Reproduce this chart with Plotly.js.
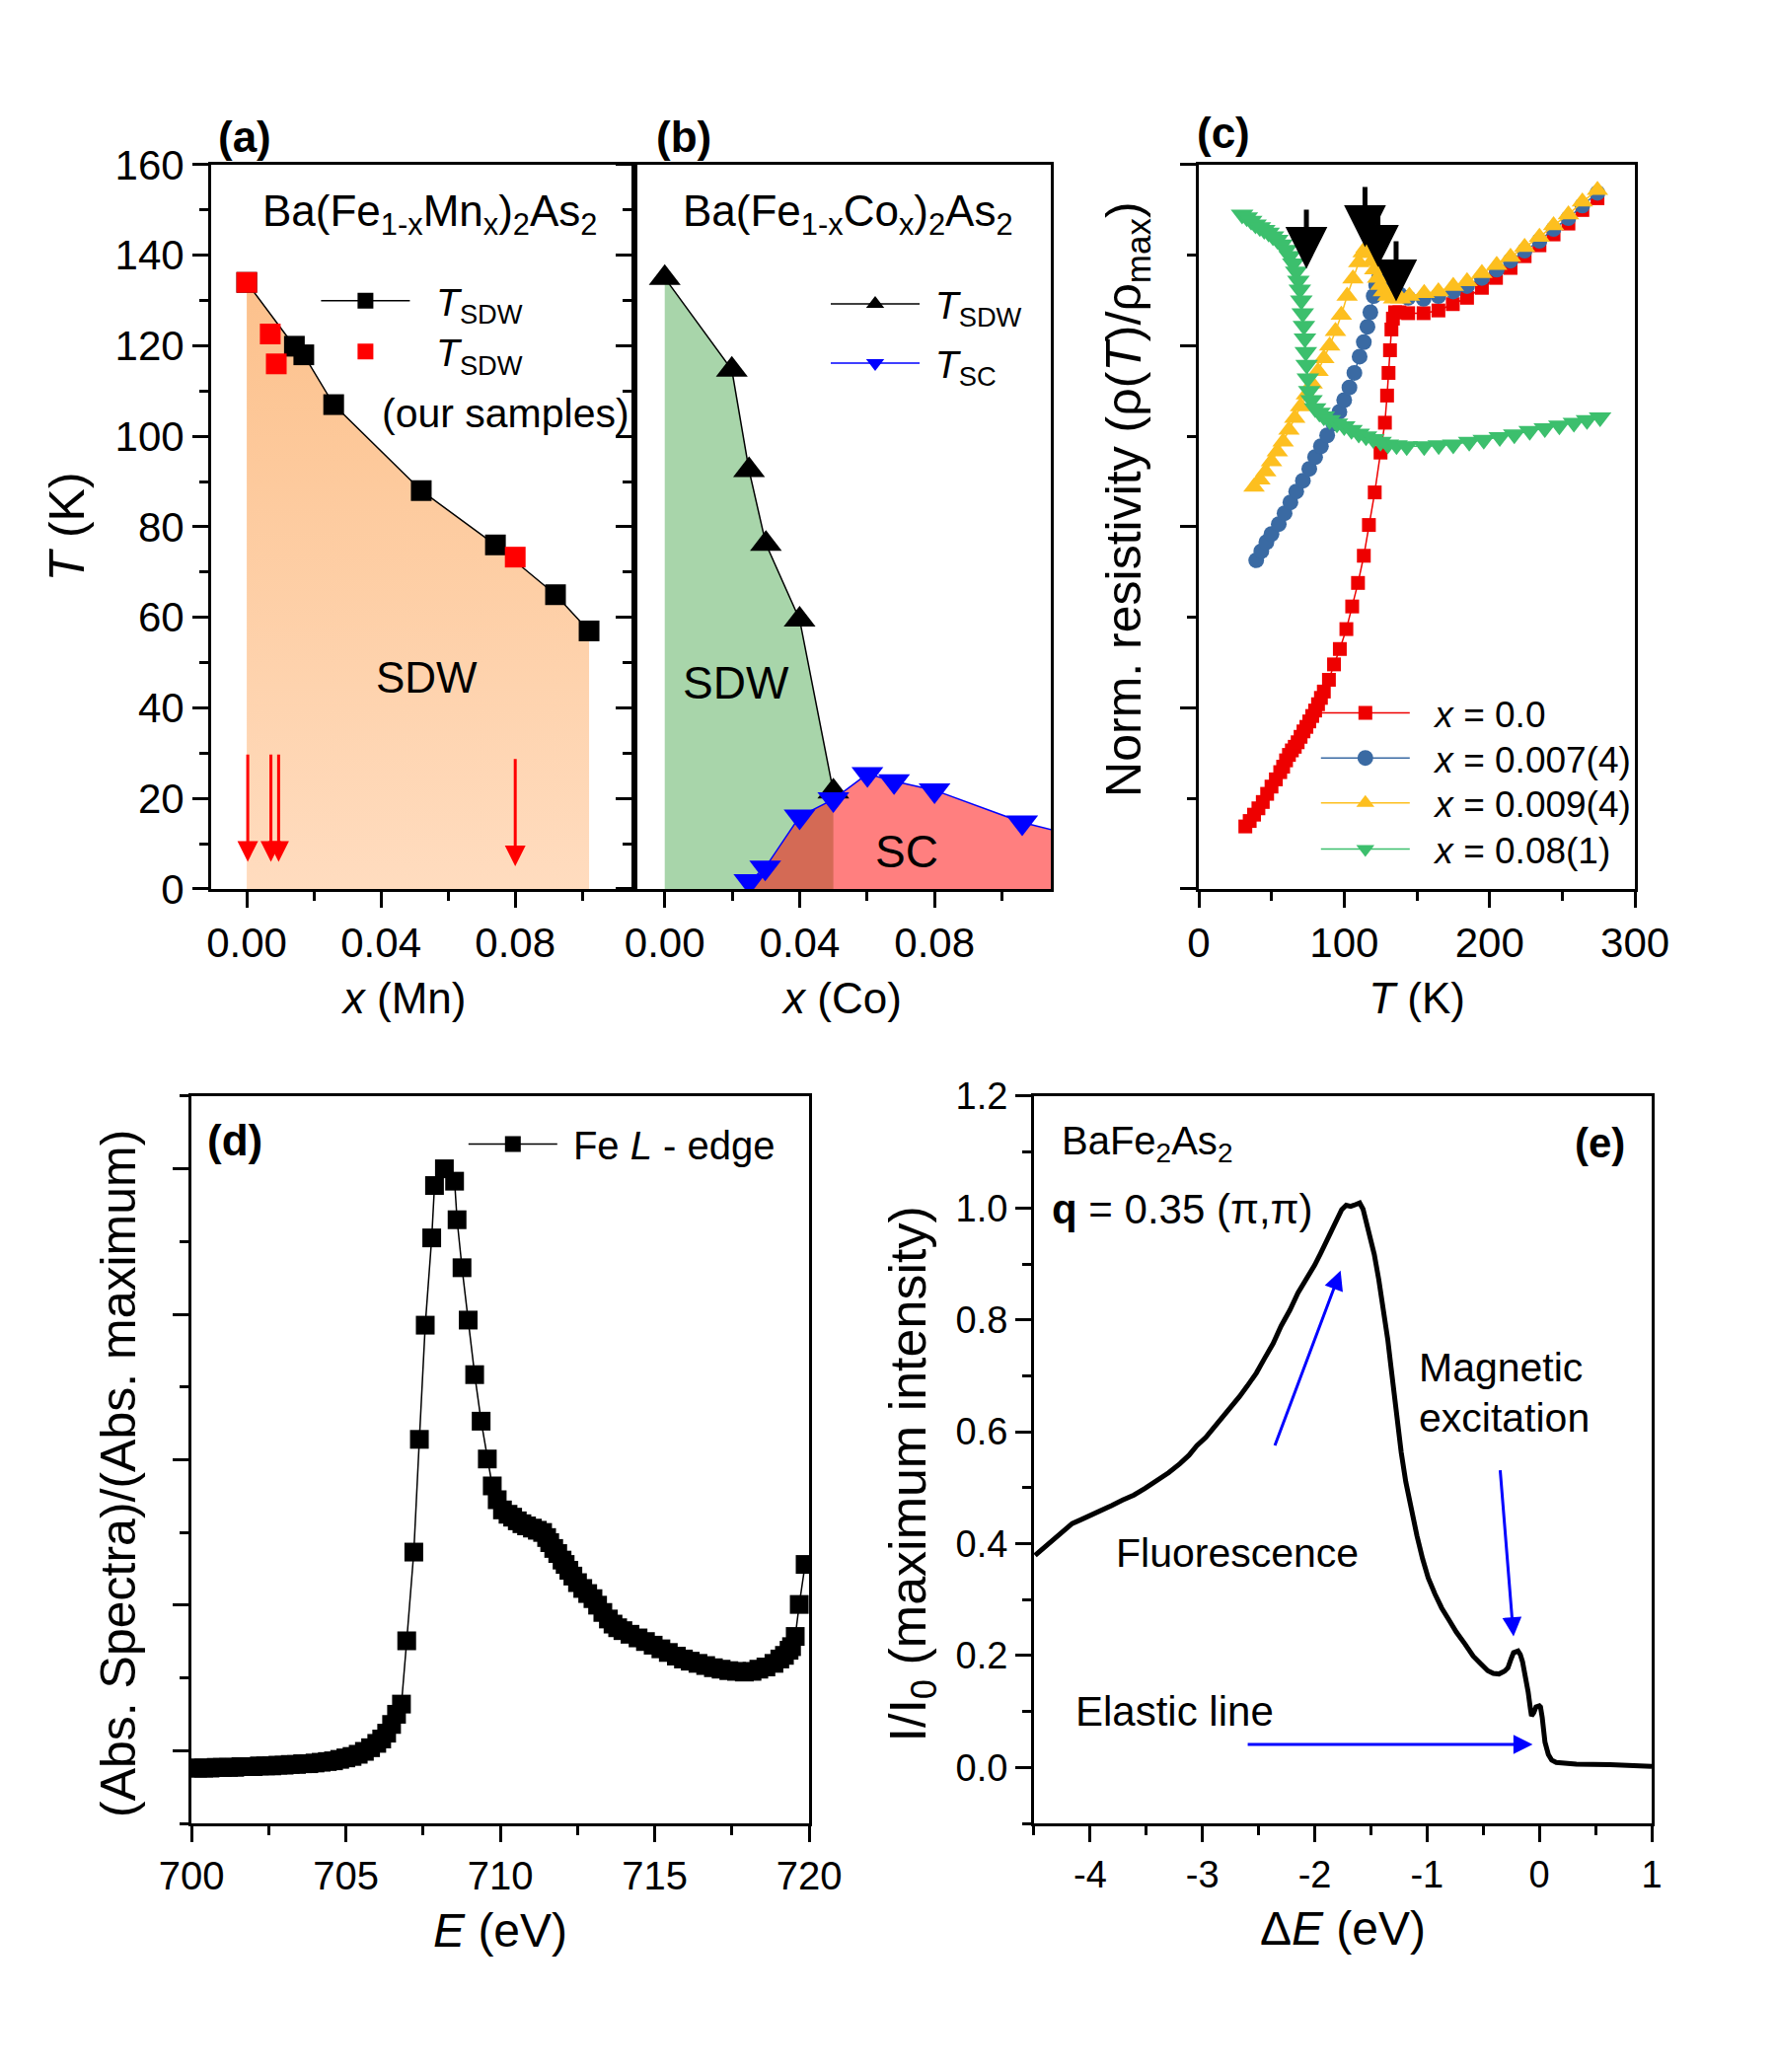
<!DOCTYPE html>
<html>
<head>
<meta charset="utf-8">
<script src="https://cdn.plot.ly/plotly-3.0.1.min.js"></script>
<style>html,body{margin:0;padding:0;background:#fff;}#chart{width:1800px;height:2100px;}</style>
</head>
<body>
<div id="chart"></div>
<script>
// ---------- Panel (a): Ba(Fe1-xMnx)2As2 ----------
const aLitX = [0, 0.0142, 0.017, 0.0259, 0.052, 0.0741, 0.092, 0.102];
const aLitT = [134, 119.9, 118, 107, 88, 76, 65, 57];
const aOurX = [0, 0.007, 0.0088, 0.08];
const aOurT = [134, 122.6, 116, 73.3];
const aArrowX = [0.0003, 0.0072, 0.0095, 0.08];
const aArrowTail = [30, 30, 30, 29];
const aArrowTip = [6, 6, 6, 5];

// ---------- Panel (b): Ba(Fe1-xCox)2As2 ----------
const bSdwX = [0, 0.0199, 0.025, 0.030, 0.040, 0.050];
const bSdwT = [135, 114.7, 92.5, 76.2, 59.5, 21.5];
const bScX = [0.0251, 0.0298, 0.040, 0.050, 0.0601, 0.068, 0.080, 0.106, 0.12];
const bScT = [1.7, 4.7, 16, 19.8, 25.4, 23.8, 21.8, 14.7, 12.1];

// ---------- Panel (c): normalized resistivity ----------
const cT0 = [32,35,38,41,44,47,50,53,56,58,60,62,64,66,68,70,72,74,76,78,80,82,84,86,89.5,93,97,101.5,105.5,109.5,113.5,117,121,125,128,129.5,130.5,131.5,132.5,133.5,135,138,144,154.6,164.8,174.7,184.5,194.7,204.4,214.4,224.1,234.3,244,254.2,263.8,274.2];
const cR0 = [0.269,0.275,0.282,0.289,0.296,0.305,0.313,0.321,0.329,0.335,0.342,0.348,0.353,0.357,0.362,0.368,0.374,0.379,0.385,0.391,0.397,0.404,0.411,0.418,0.431,0.448,0.465,0.487,0.512,0.538,0.568,0.602,0.638,0.682,0.715,0.745,0.770,0.795,0.818,0.830,0.837,0.837,0.836,0.836,0.839,0.846,0.853,0.864,0.875,0.886,0.899,0.911,0.923,0.935,0.950,0.963];
const cT1 = [39.5,43,46.5,50,55,59,63,67,71.6,76,80,84,88.3,92.5,96.7,100,103.6,107,110.6,113.5,116,118,120.3,122,124,126,128,131,134,138,144,154.6,164.8,175,184.5,194.7,204.9,214.4,224.1,234.3,244,254.2,263.8,274.2];
const cR1 = [0.563,0.573,0.583,0.592,0.603,0.615,0.627,0.639,0.651,0.664,0.677,0.689,0.701,0.714,0.727,0.740,0.754,0.770,0.788,0.804,0.821,0.837,0.855,0.867,0.875,0.877,0.873,0.866,0.861,0.857,0.853,0.852,0.855,0.860,0.866,0.875,0.884,0.894,0.905,0.916,0.929,0.941,0.955,0.969];
const cT2 = [38,42,46,50,54,58,62,66,70,74,78,82,86,90,94,98,102,106,110,113,115,117,119,121,123,125,127,130,134,139,144.8,155,164.8,175,184.5,194.7,204.9,214.4,224.1,234.3,244,254.2,263.8,274.2];
const cR2 = [0.644,0.652,0.661,0.672,0.683,0.694,0.707,0.720,0.733,0.746,0.758,0.772,0.786,0.800,0.816,0.834,0.855,0.874,0.892,0.903,0.908,0.902,0.893,0.884,0.875,0.867,0.860,0.855,0.852,0.852,0.855,0.858,0.860,0.866,0.871,0.880,0.889,0.898,0.909,0.920,0.933,0.945,0.959,0.972];
const cT3 = [29.8,33,36,39,42,45,48,51,54,57,60,62.5,65,67,68.5,69.5,70.5,71.5,72.3,73,73.6,74.2,75,76,77.5,80,83,86,90,95,100,105,110,115,120,125,130,136,143,155,165,175,186,196,207,217,227.6,238,248,258,267,276];
const cR3 = [0.945,0.942,0.938,0.934,0.931,0.928,0.925,0.921,0.917,0.912,0.906,0.899,0.891,0.882,0.872,0.862,0.850,0.836,0.822,0.808,0.793,0.779,0.764,0.750,0.740,0.731,0.726,0.722,0.718,0.714,0.711,0.707,0.703,0.700,0.697,0.694,0.691,0.690,0.689,0.689,0.690,0.691,0.694,0.696,0.699,0.702,0.706,0.709,0.712,0.715,0.718,0.721];
const cArrowT = [74, 114.3, 123.2, 135.7];
const cArrowTail = [0.952, 0.977, 0.955, 0.917];
const cArrowTip = [0.885, 0.909, 0.887, 0.849];
const cNames = ['<i>x</i> = 0.0', '<i>x</i> = 0.007(4)', '<i>x</i> = 0.009(4)', '<i>x</i> = 0.08(1)'];

// ---------- Panel (d): Fe L-edge XAS ----------
const dE = [700.0,700.2,700.4,700.6,700.8,701.0,701.2,701.4,701.6,701.8,702.0,702.2,702.4,702.6,702.8,703.0,703.2,703.4,703.6,703.8,704.0,704.2,704.4,704.6,704.8,705.0,705.2,705.4,705.6,705.8,706.0,706.16,706.32,706.48,706.64,706.8,706.97,707.2,707.38,707.57,707.78,707.87,708.19,708.52,708.6,708.76,708.96,709.17,709.38,709.58,709.74,709.9,710.07,710.25,710.4,710.55,710.7,710.85,711.04,711.2,711.37,711.5,711.6,711.73,711.86,712.0,712.1,712.22,712.35,712.5,712.67,712.83,713.0,713.15,713.32,713.5,713.65,713.8,713.97,714.2,714.46,714.7,714.95,715.2,715.44,715.7,715.93,716.15,716.4,716.65,716.9,717.15,717.4,717.65,717.9,718.15,718.37,718.6,718.86,719.05,719.2,719.35,719.43,719.55,719.68,719.87];
const dA = [0.176,0.176,0.176,0.176,0.177,0.177,0.177,0.177,0.178,0.178,0.178,0.179,0.179,0.179,0.180,0.180,0.181,0.181,0.182,0.182,0.183,0.184,0.185,0.186,0.188,0.190,0.192,0.195,0.199,0.204,0.210,0.216,0.224,0.236,0.250,0.264,0.351,0.473,0.628,0.785,0.905,0.977,1.000,0.983,0.930,0.864,0.792,0.717,0.653,0.601,0.564,0.545,0.531,0.525,0.521,0.516,0.512,0.509,0.506,0.503,0.500,0.493,0.486,0.478,0.471,0.462,0.456,0.448,0.440,0.431,0.423,0.416,0.409,0.400,0.390,0.381,0.374,0.369,0.365,0.360,0.355,0.350,0.345,0.340,0.335,0.330,0.326,0.323,0.320,0.317,0.314,0.312,0.310,0.309,0.308,0.309,0.312,0.315,0.320,0.326,0.331,0.338,0.343,0.357,0.401,0.456];

// ---------- Panel (e): RIXS spectrum ----------
const eX = [-4.49,-4.4,-4.31,-4.23,-4.16,-4.08,-4.0,-3.9,-3.81,-3.71,-3.61,-3.51,-3.41,-3.3,-3.2,-3.12,-3.05,-2.97,-2.9,-2.82,-2.75,-2.67,-2.6,-2.52,-2.45,-2.37,-2.3,-2.22,-2.15,-2.07,-2.0,-1.95,-1.9,-1.85,-1.8,-1.76,-1.72,-1.68,-1.65,-1.62,-1.6,-1.57,-1.55,-1.51,-1.47,-1.43,-1.39,-1.35,-1.32,-1.29,-1.27,-1.23,-1.19,-1.14,-1.09,-1.04,-0.99,-0.93,-0.87,-0.8,-0.74,-0.66,-0.59,-0.52,-0.46,-0.41,-0.36,-0.31,-0.28,-0.25,-0.23,-0.19,-0.17,-0.15,-0.12,-0.1,-0.08,-0.07,-0.05,-0.03,0.0,0.01,0.025,0.035,0.05,0.08,0.11,0.15,0.33,0.63,1.0];
const eI = [0.379,0.395,0.412,0.425,0.436,0.443,0.450,0.459,0.468,0.478,0.487,0.499,0.512,0.527,0.543,0.558,0.575,0.590,0.607,0.626,0.645,0.663,0.682,0.705,0.730,0.758,0.789,0.818,0.848,0.874,0.898,0.918,0.939,0.960,0.982,0.997,1.005,1.003,1.005,1.007,1.009,0.998,0.982,0.953,0.917,0.872,0.821,0.765,0.714,0.660,0.618,0.563,0.511,0.460,0.414,0.373,0.339,0.310,0.285,0.262,0.242,0.220,0.199,0.185,0.173,0.168,0.167,0.172,0.178,0.195,0.205,0.208,0.202,0.189,0.160,0.135,0.105,0.092,0.098,0.108,0.110,0.108,0.090,0.071,0.045,0.023,0.013,0.009,0.006,0.005,0.002];
const eTickVals = [-4, -3, -2, -1, 0, 1];
const eTickText = ['-4', '-3', '-2', '-1', '0', '1'];

// ---------- styling helpers ----------
const FONT = 'Liberation Sans, Arial, Helvetica, sans-serif';
const SP = '\u00a0';
const ZW = '\u200b';
function pad(n) { return ZW + SP.repeat(n) + ZW; }
function mainAx(domain, range, dtick, mdtick, anchor, o) {
  return Object.assign({
    domain: domain, range: range, anchor: anchor, dtick: dtick, tick0: 0,
    showline: true, linewidth: 3, linecolor: 'black', mirror: true,
    ticks: 'outside', ticklen: 16, tickwidth: 3, tickcolor: 'black',
    minor: {ticks: 'outside', ticklen: 9, tickwidth: 3, tickcolor: 'black', dtick: mdtick, tick0: 0, showgrid: false},
    showgrid: false, zeroline: false, tickfont: {size: 42, family: FONT, color: 'black'}
  }, o || {});
}
function overAx(base, side, anchor, range, dtick, mdtick, o) {
  return Object.assign({
    overlaying: base, side: side, anchor: anchor, range: range, dtick: dtick, tick0: 0,
    showline: false, ticks: 'inside', ticklen: 16, tickwidth: 3, tickcolor: 'black',
    minor: {ticks: 'inside', ticklen: 9, tickwidth: 3, tickcolor: 'black', dtick: mdtick, tick0: 0, showgrid: false},
    showgrid: false, zeroline: false, showticklabels: false
  }, o || {});
}

const yA = [0.5710, 0.9205];
const yB = [0.12, 0.4710];
const dom = {a: [0.1189, 0.3572], b: [0.3572, 0.5917], c: [0.6750, 0.9206], d: [0.1078, 0.4556], e: [0.5822, 0.9300]};
const rng = {a: [-0.0106, 0.1155], b: [-0.009, 0.1145], c: [0, 300], d: [700, 720], e: [-4.5, 1]};

const traces = [
  // (a) filled SDW region
  {x: aLitX, y: aLitT, xaxis: 'x', yaxis: 'y', mode: 'none', showlegend: false, hoverinfo: 'skip',
   fill: 'tozeroy', fillgradient: {type: 'vertical', start: 0, stop: 134, colorscale: [[0, '#ffdcbf'], [1, '#fcc18c']]}},
  {x: aLitX, y: aLitT, xaxis: 'x', yaxis: 'y', mode: 'lines+markers', name: SP + SP + '<i>T</i><sub>SDW</sub>',
   line: {color: 'black', width: 1.5}, marker: {symbol: 'square', size: 21, color: 'black'}, legend: 'legend'},
  {x: aOurX, y: aOurT, xaxis: 'x', yaxis: 'y', mode: 'markers', name: SP + SP + '<i>T</i><sub>SDW</sub>',
   marker: {symbol: 'square', size: 21, color: '#ff0000'}, legend: 'legend2'},
  // (b) filled regions
  {x: bSdwX, y: bSdwT, xaxis: 'x2', yaxis: 'y2', mode: 'none', showlegend: false, hoverinfo: 'skip',
   fill: 'tozeroy', fillcolor: '#a8d5aa'},
  {x: bScX, y: bScT, xaxis: 'x2', yaxis: 'y2', mode: 'none', showlegend: false, hoverinfo: 'skip',
   fill: 'tozeroy', fillcolor: 'rgba(255,0,0,0.5)'},
  {x: bSdwX, y: bSdwT, xaxis: 'x2', yaxis: 'y2', mode: 'lines+markers', name: SP + '<i>T</i><sub>SDW</sub>',
   line: {color: 'black', width: 1.5}, marker: {symbol: 'triangle-up', size: 28, color: 'black'}, legend: 'legend3'},
  {x: bScX, y: bScT, xaxis: 'x2', yaxis: 'y2', mode: 'lines+markers', name: SP + '<i>T</i><sub>SC</sub>',
   line: {color: '#0000ff', width: 1.5}, marker: {symbol: 'triangle-down', size: 28, color: '#0000ff'}, legend: 'legend4'},
  // (c)
  {x: cT0, y: cR0, xaxis: 'x3', yaxis: 'y3', mode: 'lines+markers', name: SP + SP + cNames[0],
   line: {color: '#ee0000', width: 1.5}, marker: {symbol: 'square', size: 14, color: '#ee0000'}, legend: 'legend5'},
  {x: cT1, y: cR1, xaxis: 'x3', yaxis: 'y3', mode: 'lines+markers', name: SP + SP + cNames[1],
   line: {color: '#3a6aa3', width: 1.5}, marker: {symbol: 'circle', size: 16, color: '#3a6aa3'}, legend: 'legend6'},
  {x: cT2, y: cR2, xaxis: 'x3', yaxis: 'y3', mode: 'lines+markers', name: SP + SP + cNames[2],
   line: {color: '#fdbf1f', width: 1.5}, marker: {symbol: 'triangle-up', size: 19, color: '#fdbf1f'}, legend: 'legend7'},
  {x: cT3, y: cR3, xaxis: 'x3', yaxis: 'y3', mode: 'lines+markers', name: SP + SP + cNames[3],
   line: {color: '#3cbf6d', width: 1.5}, marker: {symbol: 'triangle-down', size: 20, color: '#3cbf6d'}, legend: 'legend8'},
  // (d)
  {x: dE, y: dA, xaxis: 'x4', yaxis: 'y4', mode: 'lines+markers', name: SP + 'Fe <i>L</i> - edge',
   line: {color: 'black', width: 1.5}, marker: {symbol: 'square', size: 19, color: 'black'}, legend: 'legend9'},
  // (e)
  {x: eX, y: eI, xaxis: 'x5', yaxis: 'y5', mode: 'lines', showlegend: false,
   line: {color: 'black', width: 5}}
];

const annotations = [];
function txt(xref, yref, x, y, text, size, o) {
  annotations.push(Object.assign({xref: xref, yref: yref, x: x, y: y, text: text, showarrow: false,
    xanchor: 'center', yanchor: 'middle',
    font: {size: size, family: FONT, color: 'black'}}, o || {}));
}
function arrow(xref, yref, x, y, ax, ay, color, w, s) {
  annotations.push({xref: xref, yref: yref, axref: xref, ayref: yref, x: x, y: y, ax: ax, ay: ay,
    text: '', showarrow: true, arrowhead: 2, arrowsize: s, arrowwidth: w, arrowcolor: color, standoff: 0, startstandoff: 0});
}
// panel labels
txt('paper', 'paper', 0.138, 0.934, '<b>(a)</b>', 44);
txt('paper', 'paper', 0.385, 0.934, '<b>(b)</b>', 44);
txt('paper', 'paper', 0.689, 0.936, '<b>(c)</b>', 44);
// (a)
txt('x', 'y', 0.0544, 149, 'Ba(Fe<sub>1-x</sub>Mn<sub>x</sub>)<sub>2</sub>As<sub>2</sub>', 44);
txt('x', 'y', 0.0398, 105, '(our samples)', 41, {xanchor: 'left'});
txt('x', 'y', 0.0536, 46.7, 'SDW', 44);
for (let i = 0; i < aArrowX.length; i++) arrow('x', 'y', aArrowX[i], aArrowTip[i], aArrowX[i], aArrowTail[i], '#ff0000', 3, 1.4);
// (b)
txt('x2', 'y2', 0.0545, 149, 'Ba(Fe<sub>1-x</sub>Co<sub>x</sub>)<sub>2</sub>As<sub>2</sub>', 44);
txt('x2', 'y2', 0.0212, 45.5, 'SDW', 46);
txt('x2', 'y2', 0.0718, 8.2, 'SC', 46);
// (c)
for (let i = 0; i < cArrowT.length; i++) arrow('x3', 'y3', cArrowT[i], cArrowTip[i], cArrowT[i], cArrowTail[i], 'black', 5, 1.7);
// (d)
txt('x4', 'y4', 700.45, 1.04, '<b>(d)</b>', 44, {xanchor: 'left'});
// (e)
txt('x5', 'y5', -4.27, 1.116, 'BaFe<sub>2</sub>As<sub>2</sub>', 40, {xanchor: 'left'});
txt('x5', 'y5', -4.36, 0.998, '<b>q</b> = 0.35 (π,π)', 42, {xanchor: 'left'});
txt('x5', 'y5', 0.78, 1.116, '<b>(e)</b>', 42, {xanchor: 'right'});
txt('x5', 'y5', -1.09, 0.714, 'Magnetic', 41, {xanchor: 'left'});
txt('x5', 'y5', -1.09, 0.625, 'excitation', 41, {xanchor: 'left'});
txt('x5', 'y5', -3.79, 0.383, 'Fluorescence', 41, {xanchor: 'left'});
txt('x5', 'y5', -4.15, 0.101, 'Elastic line', 42, {xanchor: 'left'});
arrow('x5', 'y5', -1.77, 0.888, -2.36, 0.573, '#0000ff', 3, 1.3);
arrow('x5', 'y5', -0.23, 0.234, -0.35, 0.534, '#0000ff', 3, 1.3);
arrow('x5', 'y5', -0.06, 0.041, -2.61, 0.041, '#0000ff', 3, 1.3);

function leg(x, y, size) {
  return {x: x, y: y, xanchor: 'left', yanchor: 'middle', bgcolor: 'rgba(0,0,0,0)', borderwidth: 0,
    font: {size: size, family: FONT, color: 'black'}, itemwidth: 90, tracegroupgap: 0};
}

const layout = {
  width: 1800, height: 2100, margin: {l: 0, r: 0, t: 0, b: 0}, paper_bgcolor: 'white', plot_bgcolor: 'rgba(0,0,0,0)',
  font: {family: FONT, color: 'black'}, showlegend: true,
  legend: leg(0.178, 0.8548, 39),
  legend2: leg(0.178, 0.8303, 39),
  legend3: leg(0.465, 0.8533, 39),
  legend4: leg(0.465, 0.8247, 39),
  legend5: leg(0.741, 0.6557, 37),
  legend6: leg(0.741, 0.6340, 37),
  legend7: leg(0.741, 0.6123, 37),
  legend8: leg(0.741, 0.5900, 37),
  legend9: leg(0.261, 0.4478, 40),
  xaxis: mainAx(dom.a, rng.a, 0.04, 0.02, 'y', {tickformat: '.2f',
    title: {text: '<i>x</i> (Mn)' + pad(3), font: {size: 44}, standoff: 18}}),
  yaxis: mainAx(yA, [0, 160], 20, 10, 'x', {title: {text: '<i>T</i> (K)', font: {size: 50}, standoff: 16}}),
  xaxis2: mainAx(dom.b, rng.b, 0.04, 0.02, 'y2', {tickformat: '.2f',
    title: {text: '<i>x</i> (Co)', font: {size: 44}, standoff: 18}}),
  yaxis2: mainAx(yA, [0, 160], 20, 10, 'x2', {showticklabels: false}),
  xaxis3: mainAx(dom.c, rng.c, 100, 50, 'y3', {title: {text: '<i>T</i> (K)', font: {size: 44}, standoff: 18}}),
  yaxis3: mainAx(yA, [0.2, 1.0], 0.2, 0.1, 'x3', {showticklabels: false,
    title: {text: pad(4) + 'Norm. resistivity (ρ(<i>T</i>)/ρ<sub>max</sub>)', font: {size: 50}, standoff: 24}}),
  xaxis4: mainAx(dom.d, rng.d, 5, 2.5, 'y4', {tickformat: 'd', tickfont: {size: 40, family: FONT},
    title: {text: '<i>E</i> (eV)', font: {size: 48}, standoff: 18}}),
  yaxis4: mainAx(yB, [0.1, 1.1], 0.2, 0.1, 'x4', {showticklabels: false,
    title: {text: '(Abs. Spectra)/(Abs. maximum)' + pad(2), font: {size: 50}, standoff: 22}}),
  xaxis5: mainAx(dom.e, rng.e, 1, 0.5, 'y5', {tickmode: 'array', tickvals: eTickVals, ticktext: eTickText,
    tickfont: {size: 38, family: FONT}, title: {text: 'Δ<i>E</i> (eV)', font: {size: 48}, standoff: 18}}),
  yaxis5: mainAx(yB, [-0.1, 1.2], 0.2, 0.1, 'x5', {tickformat: '.1f', tickfont: {size: 38, family: FONT},
    title: {text: 'I/I<sub>0</sub> (maximum intensity)' + pad(2), font: {size: 52}, standoff: 14}}),
  // mirrored inner ticks (top / right)
  xaxis6: overAx('x', 'top', 'y', rng.a, 0.04, 0.02),
  yaxis6: overAx('y', 'right', 'x', [0, 160], 20, 10),
  xaxis7: overAx('x2', 'top', 'y2', rng.b, 0.04, 0.02),
  yaxis7: overAx('y2', 'right', 'x2', [0, 160], 20, 10),
  xaxis8: overAx('x3', 'top', 'y3', rng.c, 100, 50),
  yaxis8: overAx('y3', 'right', 'x3', [0.2, 1.0], 0.2, 0.1, {showticklabels: true, tickformat: '.1f',
    tickfont: {size: 40, family: FONT, color: 'black'}}),
  xaxis9: overAx('x4', 'top', 'y4', rng.d, 5, 2.5),
  yaxis9: overAx('y4', 'right', 'x4', [0.1, 1.1], 0.2, 0.1),
  xaxis10: overAx('x5', 'top', 'y5', rng.e, 1, 0.5),
  yaxis10: overAx('y5', 'right', 'x5', [-0.1, 1.2], 0.2, 0.1),
  annotations: annotations
};

Plotly.newPlot('chart', traces, layout, {displayModeBar: false, staticPlot: true});
</script>
</body>
</html>
